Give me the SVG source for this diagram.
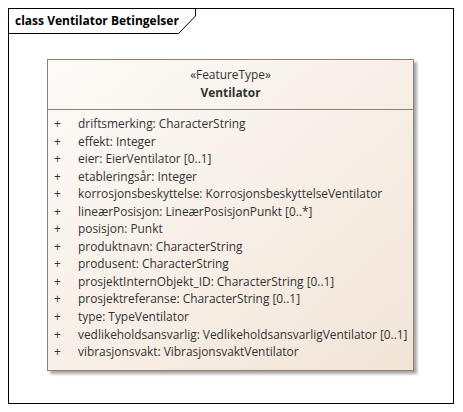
<svg xmlns="http://www.w3.org/2000/svg" width="463" height="412" viewBox="0 0 463 412">
<defs>
<linearGradient id="bg" x1="0" y1="0" x2="1" y2="1">
<stop offset="0" stop-color="#FDFBF8"/>
<stop offset="1" stop-color="#F2E4D7"/>
</linearGradient>
<filter id="sh" x="-5%" y="-5%" width="115%" height="115%">
<feGaussianBlur in="SourceAlpha" stdDeviation="1.5"/>
<feOffset dx="3" dy="3"/>
<feComponentTransfer><feFuncA type="linear" slope="0.35"/></feComponentTransfer>
<feMerge><feMergeNode/><feMergeNode in="SourceGraphic"/></feMerge>
</filter>
</defs>
<style>
text{font-family:"Open Sans","Noto Sans","DejaVu Sans",sans-serif;font-size:11.9px;fill:#333}
.t{font-size:12px;font-weight:bold;fill:#000}
.hd{text-anchor:middle}
.b{font-weight:bold}
</style>
<rect width="463" height="412" fill="#fff"/>
<g id="frame">
<rect x="8.5" y="8.5" width="445" height="395" fill="#fff" stroke="#000"/>
<path d="M8.5,33.5 H178.5 L195.5,16 V8.5" fill="none" stroke="#000"/>
<text class="t" x="15" y="25">class Ventilator Betingelser</text>
</g>
<g id="Ventilator">
<rect x="47.5" y="59.5" width="366" height="311" fill="url(#bg)" stroke="#8C8079" filter="url(#sh)"/>
<line x1="47.5" y1="109.5" x2="413.5" y2="109.5" stroke="#8C8079"/>
<text class="hd" x="230.5" y="79">«FeatureType»</text>
<text class="hd b" x="230.5" y="97">Ventilator</text>
<g>
<text x="54" y="128">+</text><text x="78" y="128">driftsmerking: CharacterString</text>
<text x="54" y="145.5">+</text><text x="78" y="145.5">effekt: Integer</text>
<text x="54" y="163.1">+</text><text x="78" y="163.1">eier: EierVentilator [0..1]</text>
<text x="54" y="180.6">+</text><text x="78" y="180.6">etableringsår: Integer</text>
<text x="54" y="198.2">+</text><text x="78" y="198.2">korrosjonsbeskyttelse: KorrosjonsbeskyttelseVentilator</text>
<text x="54" y="215.7">+</text><text x="78" y="215.7">lineærPosisjon: LineærPosisjonPunkt [0..*]</text>
<text x="54" y="233.2">+</text><text x="78" y="233.2">posisjon: Punkt</text>
<text x="54" y="250.8">+</text><text x="78" y="250.8">produktnavn: CharacterString</text>
<text x="54" y="268.3">+</text><text x="78" y="268.3">produsent: CharacterString</text>
<text x="54" y="285.9">+</text><text x="78" y="285.9">prosjektInternObjekt_ID: CharacterString [0..1]</text>
<text x="54" y="303.4">+</text><text x="78" y="303.4">prosjektreferanse: CharacterString [0..1]</text>
<text x="54" y="320.9">+</text><text x="78" y="320.9">type: TypeVentilator</text>
<text x="54" y="338.5">+</text><text x="78" y="338.5">vedlikeholdsansvarlig: VedlikeholdsansvarligVentilator [0..1]</text>
<text x="54" y="356">+</text><text x="78" y="356">vibrasjonsvakt: VibrasjonsvaktVentilator</text>
</g>
</g>
<g id="connectors"/>
</svg>
